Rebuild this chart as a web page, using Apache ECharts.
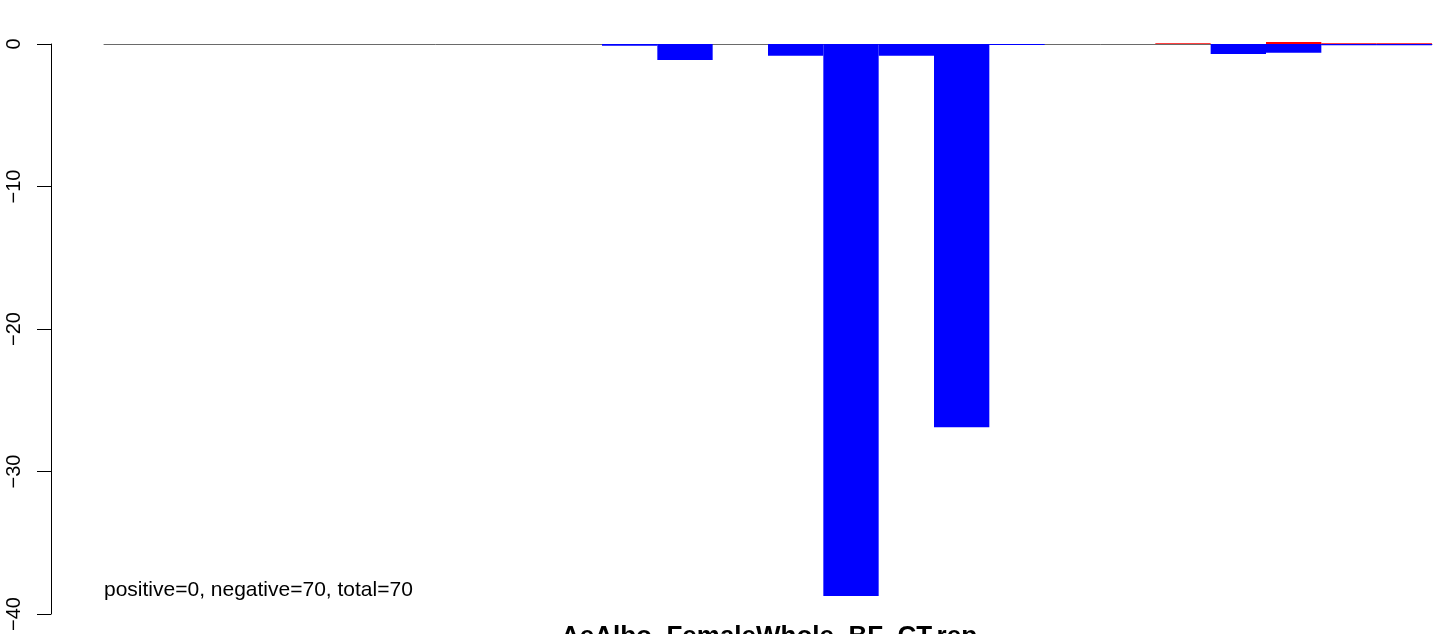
<!DOCTYPE html>
<html>
<head>
<meta charset="utf-8">
<script src="https://cdn.jsdelivr.net/npm/echarts@6/dist/echarts.min.js"></script>
<style>
html,body{margin:0;padding:0;background:#fff;}
#chart{width:1444px;height:634px;}
</style>
</head>
<body>
<div id="chart"></div>
<script>
// categories (24 bars)
var categories = ['1','2','3','4','5','6','7','8','9','10','11','12','13','14','15','16','17','18','19','20','21','22','23','24'];
// negative (blue) values
var blueValues = [0,0,0,0,0,0,0,0,0,-0.12,-1.12,0,-0.82,-38.73,-0.82,-26.89,-0.07,0,0,0,-0.70,-0.61,-0.09,-0.09];
// positive (red) values
var redValues = [0,0,0,0,0,0,0,0,0,0,0,0,0,0,0,0,0,0,0,0.05,0,0.14,0.06,0.06];
// y tick values
var yTicks = [-40,-30,-20,-10,0];
var annotation = 'positive=0, negative=70, total=70';
var titleText = 'AeAlbo_FemaleWhole_BF_CT.rep';

var FONT = '"Liberation Sans", Arial, Helvetica, sans-serif';
var chart = echarts.init(document.getElementById('chart'), null, {renderer:'canvas'});
chart.setOption({
  animation:false,
  backgroundColor:'#ffffff',
  grid:{left:104,right:12,top:44,bottom:19,containLabel:false},
  xAxis:{
    type:'category',
    data:categories,
    boundaryGap:true,
    axisLine:{show:true,onZero:true,lineStyle:{color:'#6a6a6a',width:1}},
    axisTick:{show:false},
    axisLabel:{show:false},
    splitLine:{show:false}
  },
  yAxis:{
    type:'value',
    min:yTicks[0],max:yTicks[yTicks.length-1],interval:10,
    offset:53,
    axisLine:{show:true,lineStyle:{color:'#000',width:1}},
    axisTick:{show:true,length:14,lineStyle:{color:'#000',width:1}},
    axisLabel:{show:true,rotate:90,margin:27,fontSize:20,color:'#000',fontFamily:FONT,
      formatter:function(v){return v<0?'\u2212'+Math.abs(v):String(v);}},
    splitLine:{show:false}
  },
  series:[
    {type:'bar',data:blueValues,barWidth:'100%',barGap:'-100%',clip:false,
     itemStyle:{color:'#0000ff'},z:2},
    {type:'bar',data:redValues,barWidth:'100%',barGap:'-100%',clip:false,
     itemStyle:{color:'#ff0000'},z:3}
  ],
  graphic:[
    {type:'text',x:104,y:590,style:{text:annotation,font:'21px '+FONT,fill:'#000',textAlign:'left',textVerticalAlign:'middle'}},
    {type:'text',x:769,y:637,style:{text:titleText,font:'bold 26px '+FONT,fill:'#000',textAlign:'center',textVerticalAlign:'middle'}}
  ]
});
</script>
</body>
</html>
